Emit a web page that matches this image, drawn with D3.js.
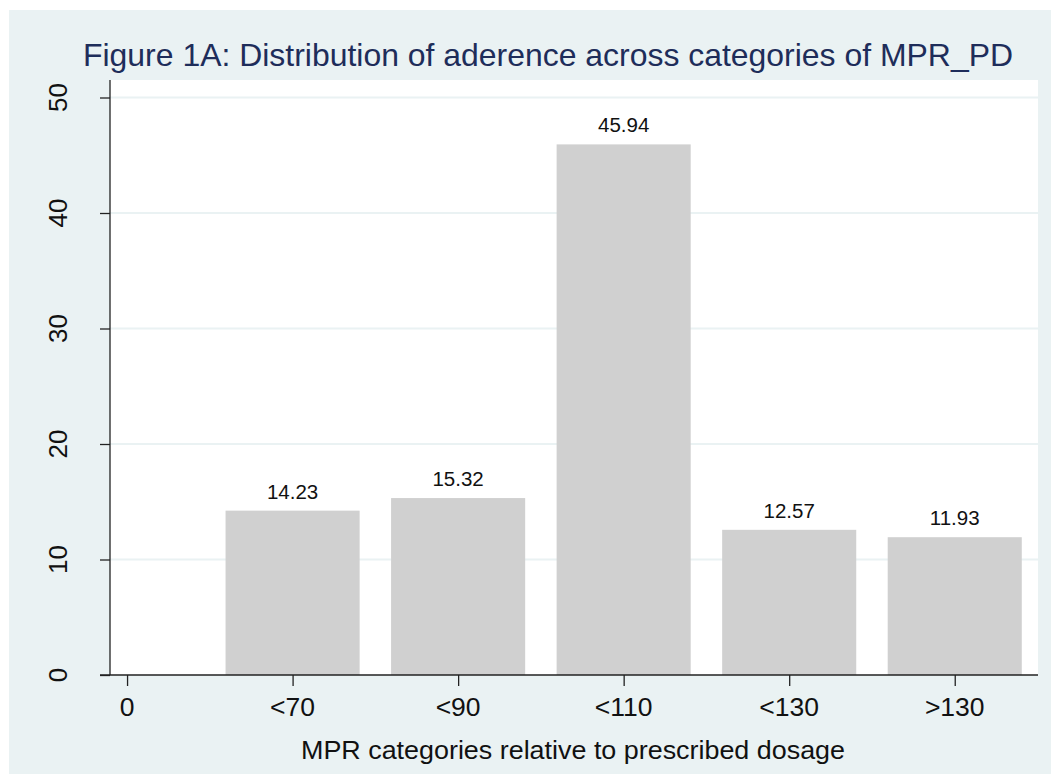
<!DOCTYPE html>
<html>
<head>
<meta charset="utf-8">
<script src="https://cdn.jsdelivr.net/npm/d3@7"></script>
<style>
  html, body { margin: 0; padding: 0; background: #ffffff; }
  svg { display: block; }
  text { font-family: "Liberation Sans", Arial, Helvetica, sans-serif; }
</style>
</head>
<body>
<svg id="chart" width="1051" height="775"></svg>
<script>
// ---- data ----
const categories = ["0", "<70", "<90", "<110", "<130", ">130"];
const values = [0, 14.23, 15.32, 45.94, 12.57, 11.93];
const valueLabels = ["", "14.23", "15.32", "45.94", "12.57", "11.93"];
const yTicks = [0, 10, 20, 30, 40, 50];
const titleText = "Figure 1A: Distribution of aderence across categories of MPR_PD";
const xTitleText = "MPR categories relative to prescribed dosage";

// ---- layout ----
const W = 1051, H = 775;
const plot = { left: 110, right: 1038, top: 80, bottom: 675 };
const svg = d3.select("#chart");

svg.append("rect").attr("x", 9).attr("y", 10).attr("width", W - 9).attr("height", H - 11)
  .attr("fill", "#EAF2F3");
svg.append("rect").attr("x", plot.left).attr("y", plot.top)
  .attr("width", plot.right - plot.left).attr("height", plot.bottom - plot.top)
  .attr("fill", "#ffffff");

const x = d3.scaleLinear().domain([-0.1, 5.5]).range([plot.left + 0.5, plot.right - 0.5]);
const y = d3.scaleLinear().domain([0, 50]).range([plot.bottom, 97.5]);
const barW = 0.81;

// gridlines
svg.append("g").selectAll("line").data(yTicks.filter(d => d > 0)).join("line")
  .attr("x1", plot.left).attr("x2", plot.right)
  .attr("y1", d => y(d)).attr("y2", d => y(d))
  .attr("stroke", "#EAF2F3").attr("stroke-width", 2);

// bars
const data = categories.map((c, i) => ({ c, i, v: values[i], label: valueLabels[i] }));
svg.append("g").selectAll("rect").data(data.filter(d => d.v > 0)).join("rect")
  .attr("x", d => x(d.i - barW / 2))
  .attr("width", d => x(d.i + barW / 2) - x(d.i - barW / 2))
  .attr("y", d => y(d.v))
  .attr("height", d => y(0) - y(d.v))
  .attr("fill", "#D0D0D0");

// value labels
svg.append("g").selectAll("text").data(data.filter(d => d.v > 0)).join("text")
  .attr("x", d => x(d.i))
  .attr("y", d => y(d.v) - 12)
  .attr("text-anchor", "middle")
  .attr("font-size", 20.5)
  .attr("fill", "#111")
  .text(d => d.label);

// y axis
const yAxis = d3.axisLeft(y).tickValues(yTicks).tickSize(10).tickFormat("");
const gy = svg.append("g").attr("transform", `translate(${plot.left},0)`).call(yAxis);
gy.select(".domain").remove();
gy.selectAll(".tick line").attr("stroke", "#222").attr("stroke-width", 1.3);
svg.append("line").attr("x1", plot.left).attr("x2", plot.left)
  .attr("y1", plot.top).attr("y2", plot.bottom)
  .attr("stroke", "#222").attr("stroke-width", 1.3);
svg.append("g").selectAll("text").data(yTicks).join("text")
  .attr("transform", d => `translate(67,${y(d)}) rotate(-90)`)
  .attr("text-anchor", "middle")
  .attr("font-size", 26)
  .attr("fill", "#111")
  .text(d => d);

// x axis
const xAxis = d3.axisBottom(x).tickValues(d3.range(categories.length)).tickSize(11).tickFormat("");
const gx = svg.append("g").attr("transform", `translate(0,${plot.bottom})`).call(xAxis);
gx.select(".domain").remove();
gx.selectAll(".tick line").attr("stroke", "#222").attr("stroke-width", 1.3);
svg.append("line").attr("x1", 100).attr("x2", plot.right)
  .attr("y1", plot.bottom).attr("y2", plot.bottom)
  .attr("stroke", "#222").attr("stroke-width", 1.3);
svg.append("g").selectAll("text").data(data).join("text")
  .attr("x", d => x(d.i))
  .attr("y", 716)
  .attr("text-anchor", "middle")
  .attr("font-size", 26.5)
  .attr("fill", "#111")
  .text(d => d.c);

// x title
svg.append("text").attr("x", 573).attr("y", 759)
  .attr("text-anchor", "middle").attr("font-size", 26).attr("fill", "#111")
  .attr("textLength", 544).attr("lengthAdjust", "spacingAndGlyphs")
  .text(xTitleText);

// title
svg.append("text").attr("x", 83).attr("y", 66)
  .attr("font-size", 32).attr("fill", "#1E2D5A")
  .attr("textLength", 930).attr("lengthAdjust", "spacingAndGlyphs")
  .text(titleText);
</script>
</body>
</html>
